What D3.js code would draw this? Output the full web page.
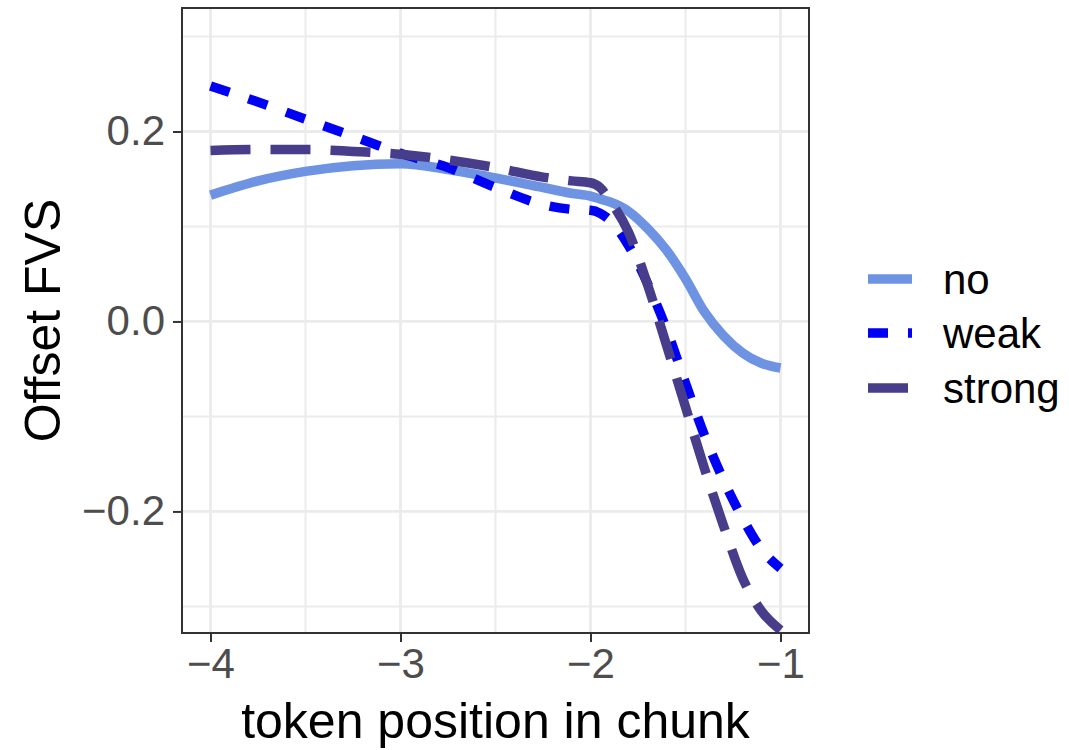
<!DOCTYPE html>
<html>
<head>
<meta charset="utf-8">
<script src="https://cdn.jsdelivr.net/npm/d3@7"></script>
<style>
  body { margin: 0; background: #fff; }
  text { font-family: "Liberation Sans", Arial, Helvetica, sans-serif; }
</style>
</head>
<body>
<div id="chart"></div>
<script>
// valores
var positions = [-4, -3.75, -3.5, -3.25, -3, -2.75, -2.5, -2.25, -2.1, -2, -1.95, -1.9, -1.8, -1.7, -1.6, -1.5, -1.4, -1.3, -1.2, -1.1, -1];
var noValues = [0.133, 0.148, 0.158, 0.164, 0.166, 0.160, 0.151, 0.141, 0.135, 0.132, 0.129, 0.126, 0.116, 0.098, 0.075, 0.045, 0.010, -0.015, -0.033, -0.044, -0.049];
var weakValues = [0.248, 0.231, 0.213, 0.195, 0.177, 0.162, 0.141, 0.123, 0.118, 0.117, 0.114, 0.107, 0.080, 0.040, -0.008, -0.065, -0.120, -0.167, -0.207, -0.240, -0.260];
var strongValues = [0.180, 0.181, 0.181, 0.179, 0.176, 0.170, 0.162, 0.152, 0.148, 0.146, 0.141, 0.128, 0.094, 0.039, -0.025, -0.090, -0.155, -0.215, -0.270, -0.305, -0.325];
var seriesNames = ["no", "weak", "strong"];
var xTicks = [-4, -3, -2, -1],
    xMinor = [-3.5, -2.5, -1.5],
    yTicks = [-0.2, 0, 0.2],
    yMinor = [-0.3, -0.1, 0.1, 0.3];

var margin = {top: 8, left: 182},
    width = 627,
    height = 625;

var colors = {no: "#6E93E3", weak: "#0000F5", strong: "#483D8B"},
    dashes = {no: null, weak: "20,20", strong: "40,20"};

var series = seriesNames.map(function(name, i) {
  var vals = [noValues, weakValues, strongValues][i];
  return {name: name, values: positions.map((p, j) => [p, vals[j]])};
});

var svg = d3.select("#chart")
  .append("svg")
  .attr("width", 1069)
  .attr("height", 750);

var g = svg.append("g")
  .attr("transform", "translate(" + margin.left + "," + margin.top + ")");

var x = d3.scaleLinear().domain([-4.15, -0.85]).range([0, width]);
var y = d3.scaleLinear().domain([-0.328, 0.330]).range([height, 0]);

// rejilla
g.selectAll(".minor-x").data(xMinor).enter().append("line")
  .attr("x1", d => x(d)).attr("x2", d => x(d)).attr("y1", 0).attr("y2", height)
  .attr("stroke", "#EBEBEB").attr("stroke-width", 2);
g.selectAll(".minor-y").data(yMinor).enter().append("line")
  .attr("y1", d => y(d)).attr("y2", d => y(d)).attr("x1", 0).attr("x2", width)
  .attr("stroke", "#EBEBEB").attr("stroke-width", 2);
g.selectAll(".major-x").data(xTicks).enter().append("line")
  .attr("x1", d => x(d)).attr("x2", d => x(d)).attr("y1", 0).attr("y2", height)
  .attr("stroke", "#EBEBEB").attr("stroke-width", 2.8);
g.selectAll(".major-y").data(yTicks).enter().append("line")
  .attr("y1", d => y(d)).attr("y2", d => y(d)).attr("x1", 0).attr("x2", width)
  .attr("stroke", "#EBEBEB").attr("stroke-width", 2.8);

// lineas
var line = d3.line()
  .x(d => x(d[0]))
  .y(d => y(d[1]))
  .curve(d3.curveMonotoneX);

g.selectAll(".serie").data(series).enter().append("path")
  .attr("d", d => line(d.values))
  .attr("fill", "none")
  .attr("stroke", d => colors[d.name])
  .attr("stroke-width", 9.5)
  .attr("stroke-dasharray", d => dashes[d.name]);

// borde del panel
g.append("rect")
  .attr("width", width).attr("height", height)
  .attr("fill", "none").attr("stroke", "#333").attr("stroke-width", 2);

// ejes
var xAxis = d3.axisBottom(x).tickValues(xTicks).tickFormat(d3.format("d")).tickSize(9).tickPadding(6);
var yAxis = d3.axisLeft(y).tickValues(yTicks).tickFormat(d3.format(".1f")).tickSize(9).tickPadding(8);

var gx = g.append("g").attr("transform", "translate(0," + height + ")").call(xAxis);
var gy = g.append("g").call(yAxis);

[gx, gy].forEach(function(a) {
  a.select(".domain").remove();
  a.selectAll(".tick line").attr("stroke", "#333").attr("stroke-width", 2);
  a.selectAll(".tick text")
    .attr("fill", "#4D4D4D")
    .style("font-size", "42px")
    .style("font-family", "'Liberation Sans', Arial, sans-serif");
});

// titulos
svg.append("text")
  .attr("x", margin.left + width / 2)
  .attr("y", 738)
  .attr("text-anchor", "middle")
  .style("font-size", "50px")
  .text("token position in chunk");

svg.append("text")
  .attr("transform", "translate(60," + (margin.top + height / 2) + ") rotate(-90)")
  .attr("text-anchor", "middle")
  .style("font-size", "50px")
  .text("Offset FVS");

// leyenda
var legend = svg.selectAll(".legend").data(seriesNames).enter().append("g")
  .attr("transform", (d, i) => "translate(868," + [279, 333, 388][i] + ")");

legend.append("line")
  .attr("x1", 0).attr("x2", 44)
  .attr("stroke", d => colors[d])
  .attr("stroke-width", 9.5)
  .attr("stroke-dasharray", d => dashes[d]);

legend.append("text")
  .attr("x", 75)
  .attr("dy", "0.35em")
  .style("font-size", "42px")
  .text(d => d);
</script>
</body>
</html>
